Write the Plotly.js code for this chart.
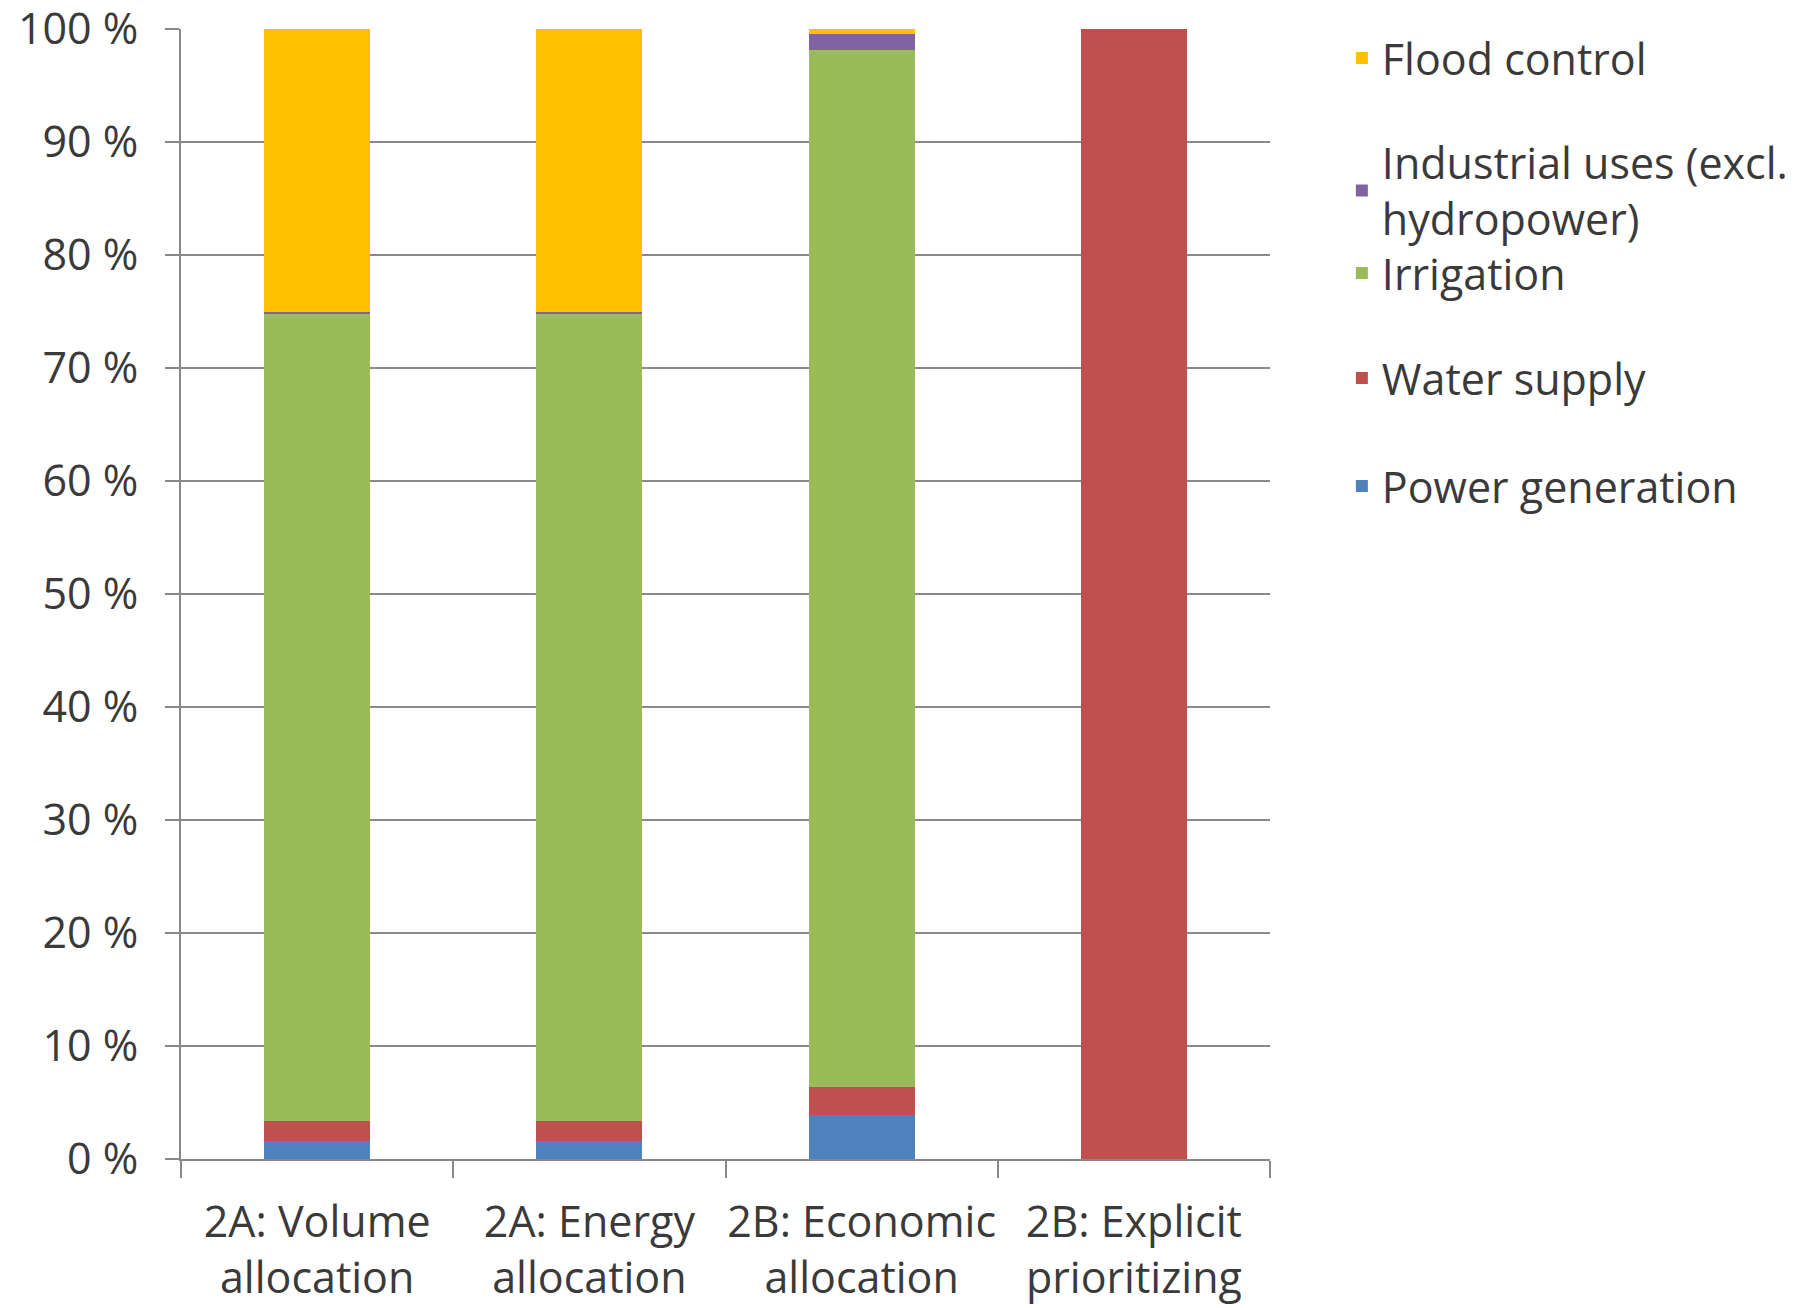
<!DOCTYPE html>
<html>
<head>
<meta charset="utf-8">
<script src="https://cdn.plot.ly/plotly-3.0.1.min.js"></script>
<style>html,body{margin:0;padding:0;background:#fff;}#chart{width:1809px;height:1308px;}</style>
</head>
<body>
<div id="chart"></div>
<script>
const categories = ["2A: Volume<br>allocation", "2A: Energy<br>allocation", "2B: Economic<br>allocation", "2B: Explicit<br>prioritizing"];
const powerGeneration = [1.6, 1.6, 3.9, 0];
const waterSupply = [1.8, 1.8, 2.5, 100];
const irrigation = [71.4, 71.4, 91.7, 0];
const industrialUses = [0.2, 0.2, 1.5, 0];
const floodControl = [25.0, 25.0, 0.4, 0];
const yTickValues = [0, 10, 20, 30, 40, 50, 60, 70, 80, 90, 100];

const FONT = "'Open Sans', Lato, sans-serif";
const TXT = "#3a3a3a";
const FS = 43;

const series = [
  {name: "Power generation", y: powerGeneration, color: "#4F81BD", legend: "legend5"},
  {name: "Water supply", y: waterSupply, color: "#C0504D", legend: "legend4"},
  {name: "Irrigation", y: irrigation, color: "#9BBB59", legend: "legend3"},
  {name: "Industrial uses (excl.<br>hydropower)", y: industrialUses, color: "#8064A2", legend: "legend2"},
  {name: "Flood control", y: floodControl, color: "#FFC000", legend: "legend"}
];

const traces = series.map(s => ({
  type: "bar",
  x: categories,
  y: s.y,
  name: s.name,
  legend: s.legend,
  marker: {color: s.color, line: {width: 0}},
  hoverinfo: "skip"
}));

function leg(y, anchor) {
  return {
    x: 1.066, xanchor: "left", y: y, yanchor: anchor || "middle",
    bgcolor: "rgba(0,0,0,0)", borderwidth: 0,
    font: {family: FONT, size: FS, color: TXT},
    itemwidth: 30
  };
}

const layout = {
  width: 1809, height: 1308,
  margin: {l: 181, r: 539, t: 29, b: 149},
  paper_bgcolor: "#ffffff",
  plot_bgcolor: "#ffffff",
  barmode: "stack",
  bargap: 0.61,
  showlegend: true,
  legend: leg(0.9743),
  legend2: leg(0.857),
  legend3: leg(0.7841),
  legend4: leg(0.6912),
  legend5: leg(0.5956),
  font: {family: FONT, size: FS, color: TXT},
  xaxis: {
    type: "category",
    showgrid: false,
    showline: true, linecolor: "#888888", linewidth: 2,
    ticks: "outside", tickson: "boundaries", ticklen: 17, tickwidth: 2, tickcolor: "#888888",
    tickfont: {family: FONT, size: FS, color: TXT},
    tickangle: 0,
    ticklabeloverflow: "allow",
    ticklabelstandoff: 24,
    fixedrange: true
  },
  yaxis: {
    range: [0, 100],
    tickvals: yTickValues,
    ticktext: yTickValues.map(v => v + " %"),
    showgrid: true, gridcolor: "#8a8a8a", gridwidth: 2,
    showline: true, linecolor: "#888888", linewidth: 2,
    ticks: "outside", ticklen: 14, tickwidth: 2, tickcolor: "#888888",
    tickfont: {family: FONT, size: FS, color: TXT},
    ticklabeloverflow: "allow",
    ticklabelstandoff: 18,
    zeroline: false,
    fixedrange: true
  }
};

Plotly.newPlot("chart", traces, layout, {displayModeBar: false, staticPlot: true});
</script>
</body>
</html>
